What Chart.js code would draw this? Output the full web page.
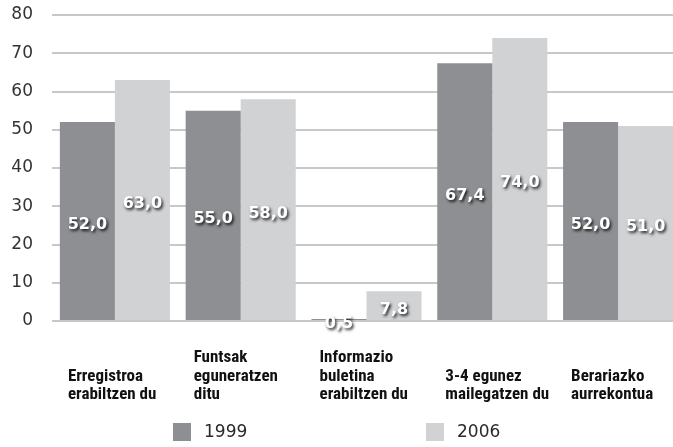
<!DOCTYPE html>
<html>
<head>
<meta charset="utf-8">
<script src="https://cdn.jsdelivr.net/npm/chart.js@4/dist/chart.umd.min.js"></script>
<style>
  html, body { margin: 0; padding: 0; background: #fff; overflow: hidden; width: 673px; height: 447px; }
  #wrap { position: relative; width: 690px; height: 447px; }
</style>
</head>
<body>
<div id="wrap"><canvas id="c" width="690" height="447"></canvas></div>
<script>
const categories = [
  ["Erregistroa", "erabiltzen du"],
  ["Funtsak", "eguneratzen", "ditu"],
  ["Informazio", "buletina", "erabiltzen du"],
  ["3-4 egunez", "mailegatzen du"],
  ["Berariazko", "aurrekontua"]
];
const seriesNames = ["1999", "2006"];
const values1999 = [52.0, 55.0, 0.5, 67.4, 52.0];
const values2006 = [63.0, 58.0, 7.8, 74.0, 51.0];
const yTicks = [0, 10, 20, 30, 40, 50, 60, 70, 80];

const colors = ["#8e8f93", "#d1d2d4"];

const valueLabels = {
  id: 'valueLabels',
  afterDatasetsDraw(chart) {
    const ctx = chart.ctx;
    ctx.save();
    ctx.font = 'bold 16px "DejaVu Sans", sans-serif';
    ctx.textAlign = 'center';
    ctx.textBaseline = 'middle';
    ctx.fillStyle = '#ffffff';
    ctx.shadowColor = 'rgba(0,0,0,0.85)';
    ctx.shadowBlur = 3;
    ctx.shadowOffsetX = 1.5;
    ctx.shadowOffsetY = 2;
    chart.data.datasets.forEach((ds, di) => {
      const meta = chart.getDatasetMeta(di);
      meta.data.forEach((bar, i) => {
        const v = ds.data[i];
        const txt = v.toFixed(1).replace('.', ',');
        const y = (bar.y + bar.base) / 2 + 4;
        ctx.fillText(txt, bar.x, y);
      });
    });
    ctx.restore();
  }
};

const categoryLabels = {
  id: 'categoryLabels',
  afterDraw(chart) {
    const ctx = chart.ctx;
    const xs = chart.scales.x;
    ctx.save();
    ctx.font = 'bold 17px "Roboto Condensed", "Liberation Sans Narrow", "Liberation Sans", sans-serif';
    ctx.fillStyle = '#111111';
    ctx.textAlign = 'left';
    ctx.textBaseline = 'middle';
    const lineH = 18.5;
    const bottomY = 395;
    chart.data.labels.forEach((lines, i) => {
      const x = xs.getPixelForValue(i) - 47;
      const n = lines.length;
      lines.forEach((t, k) => {
        ctx.fillText(t, x, bottomY - (n - 1 - k) * lineH);
      });
    });
    ctx.restore();
  }
};

const customLegend = {
  id: 'customLegend',
  afterDraw(chart) {
    const ctx = chart.ctx;
    ctx.save();
    ctx.font = '17px "DejaVu Sans", sans-serif';
    ctx.textBaseline = 'middle';
    ctx.textAlign = 'left';
    const xs = [173, 426];
    chart.data.datasets.forEach((ds, di) => {
      ctx.fillStyle = ds.backgroundColor;
      ctx.fillRect(xs[di], 423, 18, 18);
      ctx.fillStyle = '#2a2a2a';
      ctx.fillText(ds.label, xs[di] + 31, 433);
    });
    ctx.restore();
  }
};

new Chart(document.getElementById('c'), {
  type: 'bar',
  data: {
    labels: categories,
    datasets: [
      { label: seriesNames[0], data: values1999, backgroundColor: colors[0], categoryPercentage: 0.875, barPercentage: 1.0 },
      { label: seriesNames[1], data: values2006, backgroundColor: colors[1], categoryPercentage: 0.875, barPercentage: 1.0 }
    ]
  },
  options: {
    responsive: false,
    animation: false,
    layout: { padding: { left: 0, right: 9, top: 15, bottom: 0 } },
    plugins: { legend: { display: false }, tooltip: { enabled: false } },
    scales: {
      x: {
        grid: { display: false },
        border: { display: false },
        ticks: { display: false },
        afterFit(scale) { scale.height = 126; }
      },
      y: {
        min: 0,
        max: 80,
        afterBuildTicks(scale) { scale.ticks = yTicks.map(v => ({ value: v })); },
        grid: { color: '#c8c8c8', lineWidth: 2, drawTicks: false },
        border: { display: false },
        ticks: {
          padding: 19,
          color: '#333333',
          font: { family: '"DejaVu Sans", sans-serif', size: 17 }
        },
        afterFit(scale) { scale.width = 52; scale.paddingTop = 0; scale.paddingBottom = 0; }
      }
    }
  },
  plugins: [valueLabels, categoryLabels, customLegend]
});
</script>
</body>
</html>
